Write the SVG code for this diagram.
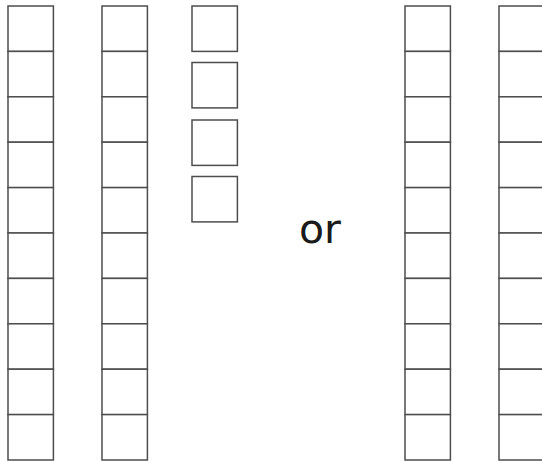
<svg xmlns="http://www.w3.org/2000/svg" xmlns:xlink="http://www.w3.org/1999/xlink" width="542" height="461" viewBox="0 0 542 461">
<style>
.c{fill:#fff;stroke:#4d4d4d;stroke-width:1.5}
.t{font-family:"DejaVu Sans","Liberation Sans",sans-serif;font-size:41px;fill:#1a1a1a}
</style>
<defs>
<g id="col">
<rect class="c" x="0" y="0" width="45.4" height="45.4"/>
<rect class="c" x="0" y="45.4" width="45.4" height="45.4"/>
<rect class="c" x="0" y="90.8" width="45.4" height="45.4"/>
<rect class="c" x="0" y="136.2" width="45.4" height="45.4"/>
<rect class="c" x="0" y="181.6" width="45.4" height="45.4"/>
<rect class="c" x="0" y="227" width="45.4" height="45.4"/>
<rect class="c" x="0" y="272.4" width="45.4" height="45.4"/>
<rect class="c" x="0" y="317.8" width="45.4" height="45.4"/>
<rect class="c" x="0" y="363.2" width="45.4" height="45.4"/>
<rect class="c" x="0" y="408.6" width="45.4" height="45.4"/>
</g>
</defs>
<rect width="542" height="461" fill="#fff"/>
<g id="column1"><use xlink:href="#col" x="8" y="6"/></g>
<g id="column2"><use xlink:href="#col" x="102" y="6"/></g>
<g id="units">
<rect class="c" x="192" y="6" width="45.4" height="45.4"/>
<rect class="c" x="192" y="62.5" width="45.4" height="45.4"/>
<rect class="c" x="192" y="120" width="45.4" height="45.4"/>
<rect class="c" x="192" y="176.5" width="45.4" height="45.4"/>
</g>
<g id="or-label"><text class="t" x="320" y="243" text-anchor="middle">or</text></g>
<g id="column3"><use xlink:href="#col" x="405" y="6"/></g>
<g id="column4"><use xlink:href="#col" x="499" y="6"/></g>
<g id="connectors"/>
</svg>
